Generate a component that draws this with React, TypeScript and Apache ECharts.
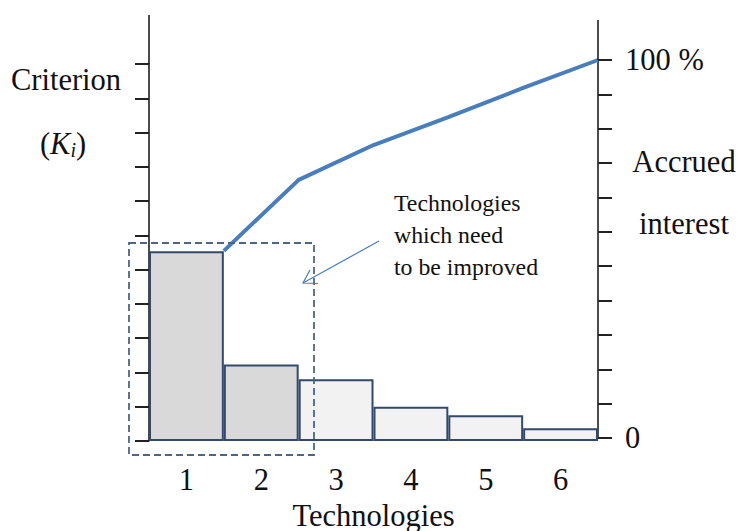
import React, { useEffect, useRef } from "react";
import * as echarts from "echarts";

const categories = ["1", "2", "3", "4", "5", "6"];
const criterionValues = [5.54, 2.23, 1.8, 1.0, 0.75, 0.37];
const barFills = ["#d9d9d9", "#d9d9d9", "#f2f2f2", "#f2f2f2", "#f2f2f2", "#f2f2f2"];
// accrued interest, percent (right axis: 11 tick steps from 0 to 100 %)
const accruedPercent = [49.5, 68.3, 77.5, 84.9, 92.6, 100];
const rightTickCount = 11;
const leftAxisMax = 11;

const FONT = "'Liberation Serif', 'Times New Roman', serif";
const TXT = "#111";
const BIG = 30.5;
const SMALL = 23.8;

export default function App() {
  const ref = useRef<HTMLDivElement>(null);
  useEffect(() => {
    if (!ref.current) return;
    const chart = echarts.init(ref.current, null, { renderer: "svg" });
    const option: any = {
      animation: false,
      backgroundColor: "#ffffff",
      textStyle: { fontFamily: FONT },
      grid: [
        { left: 149, right: 146, top: 64, bottom: 90, containLabel: false, outerBoundsMode: "none" },
        { left: 149, right: 146, top: 60, bottom: 93, containLabel: false, outerBoundsMode: "none" },
      ],
      xAxis: [
        {
          type: "category",
          gridIndex: 0,
          data: categories,
          boundaryGap: true,
          axisLine: { show: false },
          axisTick: { show: false },
          axisLabel: { fontSize: BIG, color: TXT, fontFamily: FONT, margin: 23 },
          name: "Technologies",
          nameLocation: "middle",
          nameGap: 59,
          nameTextStyle: { fontSize: BIG, color: TXT, fontFamily: FONT },
        },
        {
          type: "value",
          gridIndex: 1,
          min: 0,
          max: categories.length,
          show: false,
        },
      ],
      yAxis: [
        {
          type: "value",
          gridIndex: 0,
          position: "left",
          min: 0,
          max: leftAxisMax,
          interval: 1,
          splitLine: { show: false },
          axisLine: { show: true, onZero: false, lineStyle: { color: "#111", width: 1.5 } },
          axisTick: { show: true, length: 14, lineStyle: { color: "#222", width: 2 } },
          axisLabel: { show: false },
        },
        {
          type: "value",
          gridIndex: 1,
          position: "right",
          min: 0,
          max: rightTickCount,
          interval: 1,
          splitLine: { show: false },
          axisLine: { show: true, onZero: false, lineStyle: { color: "#111", width: 1.5 } },
          axisTick: { show: true, length: 14, lineStyle: { color: "#222", width: 2 } },
          axisLabel: {
            show: true,
            margin: 27,
            fontSize: BIG,
            color: TXT,
            fontFamily: FONT,
            padding: [10, 0, 0, 0],
            formatter: (v: number) => (v === 0 ? "0" : v === rightTickCount ? "100 %" : ""),
          },
        },
      ],
      series: [
        {
          type: "bar",
          xAxisIndex: 0,
          yAxisIndex: 0,
          barWidth: "100%",
          barGap: "0%",
          z: 2,
          data: criterionValues.map((v, i) => ({
            value: v,
            itemStyle: { color: barFills[i], borderColor: "#33496b", borderWidth: 2 },
          })),
        },
        {
          type: "line",
          xAxisIndex: 1,
          yAxisIndex: 1,
          z: 5,
          symbol: "none",
          lineStyle: { color: "#4a7ebb", width: 4 },
          data: accruedPercent.map((p, i) => [i + 1, (p * rightTickCount) / 100]),
        },
      ],
      graphic: [
        { type: "line", z: 100, shape: { x1: 149, y1: 15, x2: 149, y2: 64 }, style: { stroke: "#111", lineWidth: 1.5 } },
        { type: "line", z: 100, shape: { x1: 598, y1: 20, x2: 598, y2: 60 }, style: { stroke: "#111", lineWidth: 1.5 } },
        {
          type: "rect",
          z: 100,
          shape: { x: 129, y: 243, width: 185, height: 212 },
          style: { fill: "none", stroke: "#4f6585", lineWidth: 1.8, lineDash: [7, 4] },
        },
        { type: "line", z: 100, shape: { x1: 379, y1: 241, x2: 303, y2: 283 }, style: { stroke: "#4a7ebb", lineWidth: 1.2 } },
        {
          type: "polyline",
          z: 100,
          shape: { points: [[310, 270], [303, 283], [318, 283.5]] },
          style: { fill: "none", stroke: "#4a7ebb", lineWidth: 1.2 },
        },
        {
          type: "text",
          z: 100,
          x: 394,
          y: 187,
          style: {
            text: "Technologies\nwhich need\nto be improved",
            fontSize: SMALL,
            lineHeight: 32,
            fontFamily: FONT,
            fill: TXT,
            align: "left",
            verticalAlign: "top",
          },
        },
        {
          type: "text",
          z: 100,
          x: 66,
          y: 80,
          style: { text: "Criterion", fontSize: BIG, fontFamily: FONT, fill: TXT, align: "center", verticalAlign: "middle" },
        },
        {
          type: "text",
          z: 100,
          x: 63,
          y: 144,
          style: {
            text: "{n|(}{k|K}{s|i}{n|)}",
            fontFamily: FONT,
            fill: TXT,
            align: "center",
            verticalAlign: "middle",
            rich: {
              n: { fontSize: BIG, fontFamily: FONT, fill: TXT },
              k: { fontSize: BIG, fontFamily: FONT, fontStyle: "italic", fill: TXT },
              s: { fontSize: 20, fontFamily: FONT, fontStyle: "italic", fill: TXT, padding: [12, 0, 0, 0] },
            },
          },
        },
        {
          type: "text",
          z: 100,
          x: 684,
          y: 162,
          style: { text: "Accrued", fontSize: BIG, fontFamily: FONT, fill: TXT, align: "center", verticalAlign: "middle" },
        },
        {
          type: "text",
          z: 100,
          x: 684,
          y: 224,
          style: { text: "interest", fontSize: BIG, fontFamily: FONT, fill: TXT, align: "center", verticalAlign: "middle" },
        },
      ],
    };
    chart.setOption(option);
    return () => chart.dispose();
  }, []);
  return (
    <div
      ref={ref}
      style={{ position: "fixed", left: 0, top: 0, width: 744, height: 531, background: "#fff" }}
    />
  );
}
